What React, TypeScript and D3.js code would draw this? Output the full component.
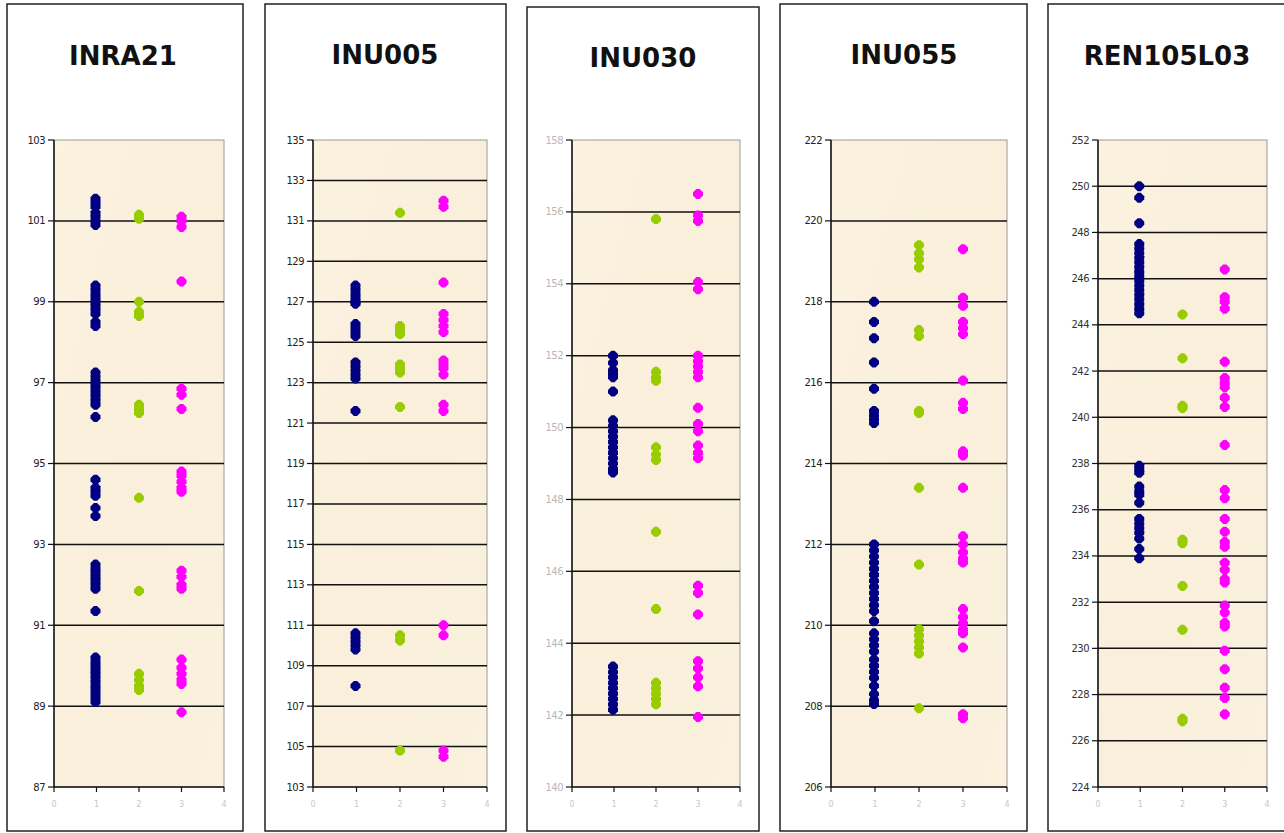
import React from "react";
import * as d3 from "d3";

// ---- Data ----
const titles = ["INRA21", "INU005", "INU030", "INU055", "REN105L03"];
const yMins = [87, 103, 140, 206, 224];
const yMaxs = [103, 135, 158, 222, 252];
const xTicks = [0, 1, 2, 3, 4];
const groupX = [1, 2, 3];
const seriesColors = ["#000080", "#99CC00", "#FF00FF"];

const inra21Blue = [101.55, 101.45, 101.35, 101.2, 101.1, 101.0, 100.9, 99.4, 99.3, 99.2, 99.1, 99.0, 98.9, 98.8, 98.7, 98.5, 98.4, 97.25, 97.15, 97.05, 96.95, 96.85, 96.75, 96.65, 96.55, 96.45, 96.15, 94.6, 94.4, 94.3, 94.2, 93.9, 93.7, 92.5, 92.4, 92.3, 92.2, 92.1, 92.0, 91.9, 91.35, 90.2, 90.1, 90.0, 89.9, 89.8, 89.7, 89.6, 89.5, 89.4, 89.3, 89.2, 89.1];
const inra21Green = [101.15, 101.05, 99.0, 98.75, 98.65, 96.45, 96.35, 96.25, 94.15, 91.85, 89.8, 89.65, 89.5, 89.4];
const inra21Magenta = [101.1, 101.0, 100.85, 99.5, 96.85, 96.7, 96.35, 94.8, 94.7, 94.55, 94.4, 94.3, 92.35, 92.2, 92.0, 91.9, 90.15, 89.95, 89.8, 89.65, 89.55, 88.85];

const inu005Blue = [127.8, 127.6, 127.4, 127.2, 127.0, 126.9, 125.9, 125.7, 125.5, 125.3, 124.0, 123.8, 123.6, 123.4, 123.2, 121.6, 110.6, 110.4, 110.2, 110.0, 109.8, 108.0];
const inu005Green = [131.4, 125.8, 125.6, 125.4, 123.9, 123.7, 123.5, 121.8, 110.5, 110.25, 104.8];
const inu005Magenta = [132.0, 131.7, 127.95, 126.4, 126.1, 125.8, 125.5, 124.1, 123.9, 123.7, 123.4, 121.9, 121.6, 111.0, 110.5, 104.8, 104.5];

const inu030Blue = [152.0, 151.8, 151.6, 151.5, 151.4, 151.0, 150.2, 150.05, 149.9, 149.75, 149.6, 149.45, 149.3, 149.15, 149.0, 148.85, 148.75, 143.35, 143.2, 143.05, 142.9, 142.75, 142.6, 142.45, 142.3, 142.15];
const inu030Green = [155.8, 151.55, 151.4, 151.3, 149.45, 149.25, 149.1, 147.1, 144.95, 142.9, 142.75, 142.6, 142.45, 142.3];
const inu030Magenta = [156.5, 155.9, 155.75, 154.05, 153.85, 152.0, 151.85, 151.7, 151.55, 151.4, 150.55, 150.1, 149.9, 149.5, 149.3, 149.15, 145.6, 145.4, 144.8, 143.5, 143.3, 143.05, 142.8, 141.95];

const inu055Blue = [218.0, 217.5, 217.1, 216.5, 215.85, 215.3, 215.2, 215.1, 215.0, 212.0, 211.85, 211.7, 211.55, 211.4, 211.25, 211.1, 210.95, 210.8, 210.65, 210.5, 210.35, 210.1, 209.8, 209.65, 209.5, 209.35, 209.15, 209.0, 208.85, 208.7, 208.5, 208.3, 208.15, 208.05];
const inu055Green = [219.4, 219.2, 219.05, 218.85, 217.3, 217.15, 215.3, 215.25, 213.4, 211.5, 209.9, 209.75, 209.6, 209.45, 209.3, 207.95];
const inu055Magenta = [219.3, 218.1, 217.9, 217.5, 217.35, 217.2, 216.05, 215.5, 215.35, 214.3, 214.2, 213.4, 212.2, 212.0, 211.8, 211.65, 211.55, 210.4, 210.2, 210.05, 209.9, 209.8, 209.45, 207.8, 207.7];

const ren105Blue = [250.0, 249.5, 248.4, 247.5, 247.3, 247.1, 246.9, 246.7, 246.5, 246.3, 246.1, 245.9, 245.7, 245.5, 245.3, 245.1, 244.9, 244.7, 244.5, 237.9, 237.75, 237.6, 237.0, 236.8, 236.65, 236.3, 235.6, 235.4, 235.2, 235.0, 234.75, 234.3, 233.9];
const ren105Green = [244.45, 242.55, 240.5, 240.4, 234.7, 234.55, 232.7, 230.8, 226.95, 226.85];
const ren105Magenta = [246.4, 245.2, 245.0, 244.7, 242.4, 241.7, 241.5, 241.3, 240.85, 240.45, 238.8, 236.85, 236.5, 235.6, 235.05, 234.6, 234.4, 233.7, 233.4, 233.0, 232.85, 231.85, 231.55, 231.1, 230.95, 229.9, 229.1, 228.3, 227.85, 227.15];

const panelSeries = [
  [inra21Blue, inra21Green, inra21Magenta],
  [inu005Blue, inu005Green, inu005Magenta],
  [inu030Blue, inu030Green, inu030Magenta],
  [inu055Blue, inu055Green, inu055Magenta],
  [ren105Blue, ren105Green, ren105Magenta],
];

// ---- Layout (pixels) ----
const W = 1284;
const H = 833;
const layout = [
  { bx0: 7, bx1: 243, by0: 4, px0: 54, px1: 224, tx: 123, ty: 65, lab: "#222" },
  { bx0: 265, bx1: 506, by0: 4, px0: 313, px1: 487, tx: 385, ty: 64, lab: "#222" },
  { bx0: 527, bx1: 759, by0: 7, px0: 572, px1: 740, tx: 643, ty: 67, lab: "#b8b8b8" },
  { bx0: 780, bx1: 1027, by0: 4, px0: 831, px1: 1007, tx: 904, ty: 64, lab: "#222" },
  { bx0: 1048, bx1: 1295, by0: 4, px0: 1098, px1: 1267, tx: 1167, ty: 65, lab: "#333" },
];
const plotTop = 140;
const plotBottom = 787;
const boxBottom = 831;

// Excel-like blunt diamond marker
const marker = (cx: number, cy: number, r: number) => {
  const f = 1.6;
  return `M${cx - f},${cy - r}L${cx + f},${cy - r}L${cx + r},${cy - f}L${cx + r},${cy + f}L${cx + f},${cy + r}L${cx - f},${cy + r}L${cx - r},${cy + f}L${cx - r},${cy - f}Z`;
};

function Panel({ i }: { i: number }) {
  const L = layout[i];
  const y = d3.scaleLinear().domain([yMins[i], yMaxs[i]]).range([plotBottom, plotTop]);
  const x = d3.scaleLinear().domain([0, 4]).range([L.px0, L.px1]);
  const yTicks = d3.range(yMins[i], yMaxs[i] + 0.001, 2);
  const grid = yTicks.filter((t) => t > yMins[i] && t < yMaxs[i]);
  return (
    <g>
      <rect
        x={L.bx0}
        y={L.by0}
        width={L.bx1 - L.bx0}
        height={boxBottom - L.by0}
        fill="#ffffff"
        stroke="#222"
        strokeWidth={1.5}
      />
      <text
        x={L.tx}
        y={L.ty}
        textAnchor="middle"
        fontFamily="DejaVu Sans, sans-serif"
        fontWeight="bold"
        fontSize={26}
        fill="#111"
      >
        {titles[i]}
      </text>
      <rect
        x={L.px0}
        y={plotTop}
        width={L.px1 - L.px0}
        height={plotBottom - plotTop}
        fill="url(#paper)"
        stroke="#9a9a9a"
        strokeWidth={1}
      />
      {grid.map((t) => (
        <line key={"g" + t} x1={L.px0} x2={L.px1} y1={y(t)} y2={y(t)} stroke="#111" strokeWidth={1.5} />
      ))}
      {/* y axis */}
      <line x1={L.px0} x2={L.px0} y1={plotTop} y2={plotBottom} stroke="#111" strokeWidth={1.5} />
      {yTicks.map((t) => (
        <g key={"yt" + t}>
          <line x1={L.px0 - 6} x2={L.px0} y1={y(t)} y2={y(t)} stroke="#111" strokeWidth={1.2} />
          <text
            x={L.px0 - 9}
            y={y(t)}
            dy="0.35em"
            textAnchor="end"
            fontFamily="DejaVu Sans, sans-serif"
            fontSize={10}
            letterSpacing={-0.5}
            fill={L.lab}
          >
            {t}
          </text>
        </g>
      ))}
      {/* x axis */}
      <line x1={L.px0} x2={L.px1} y1={plotBottom} y2={plotBottom} stroke="#111" strokeWidth={1.5} />
      {xTicks.map((t) => (
        <g key={"xt" + t}>
          <line x1={x(t)} x2={x(t)} y1={plotBottom} y2={plotBottom + 5} stroke="#111" strokeWidth={1.2} />
          <text
            x={x(t)}
            y={plotBottom + 20}
            textAnchor="middle"
            fontFamily="DejaVu Sans, sans-serif"
            fontSize={8}
            fill="#c8c8c8"
          >
            {t}
          </text>
        </g>
      ))}
      {panelSeries[i].map((vals, s) => (
        <g key={"s" + s} fill={seriesColors[s]}>
          {vals.map((v, k) => (
            <path key={k} d={marker(x(groupX[s]) - (s === 0 ? 1 : 0), y(v), 5)} />
          ))}
        </g>
      ))}
    </g>
  );
}

export default function App() {
  return (
    <div style={{ position: "absolute", left: 0, top: 0, width: W, height: H, background: "#fff" }}>
      <svg width={W} height={H} viewBox={`0 0 ${W} ${H}`} style={{ display: "block" }}>
        <defs>
          <linearGradient id="paper" x1="0" y1="0" x2="1" y2="1">
            <stop offset="0%" stopColor="#FBF2E0" />
            <stop offset="50%" stopColor="#F9EFDA" />
            <stop offset="100%" stopColor="#FAF1DE" />
          </linearGradient>
        </defs>
        <rect x={0} y={0} width={W} height={H} fill="#fff" />
        {titles.map((_, i) => (
          <Panel key={i} i={i} />
        ))}
      </svg>
    </div>
  );
}
